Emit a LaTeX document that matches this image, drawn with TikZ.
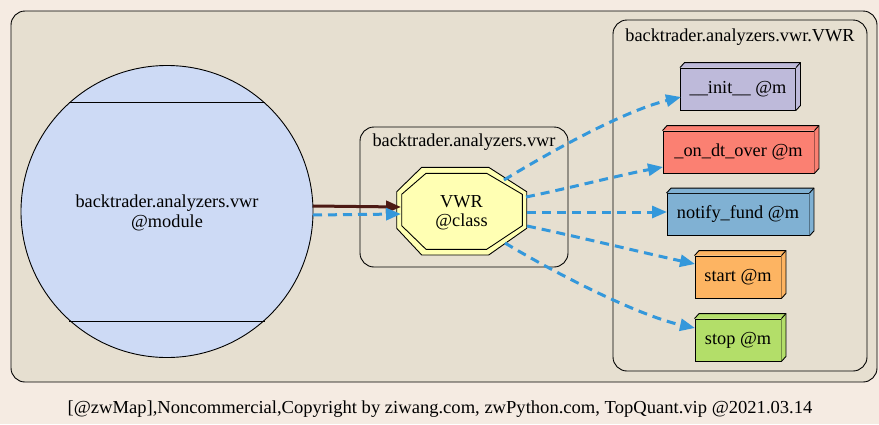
\documentclass[tikz,border=0pt]{standalone}
\usepackage{fontspec}
\setmainfont{Liberation Serif}
\usetikzlibrary{arrows.meta}
\definecolor{pagebg}{HTML}{F5EBE2}
\definecolor{clbg}{HTML}{E6DFD0}
\definecolor{modfill}{HTML}{CDDAF5}
\definecolor{clsfill}{HTML}{FFFFB3}
\definecolor{cinit}{HTML}{BEBADA}
\definecolor{condt}{HTML}{FB8072}
\definecolor{cnotify}{HTML}{80B1D3}
\definecolor{cstart}{HTML}{FDB462}
\definecolor{cstop}{HTML}{B3DE69}
\definecolor{eblue}{HTML}{3498DB}
\definecolor{ebrown}{HTML}{4D1A14}
\tikzset{
  lbl/.style={font=\fontsize{18.3}{20}\selectfont, align=center, inner sep=0pt},
  cluster/.style={draw=black, fill=clbg, line width=0.9pt, rounded corners=14pt},
  meth/.style={draw=black, line width=0.9pt, rectangle, minimum height=42pt, inner sep=0pt, font=\fontsize{18.3}{20}\selectfont},
  dep/.style={draw=eblue, line width=3pt, dash pattern=on 9pt off 6pt, -{Triangle[length=15pt,width=12pt,fill=eblue]}},
  inh/.style={draw=ebrown, line width=3pt, -{Triangle[length=15pt,width=12pt,fill=ebrown]}},
}
\newcommand{\boxthreed}[2]{%
  \fill[#2] (#1.north west) -- ++(4.5,-5) -- ([shift={(4.5,-5)}]#1.north east) -- ([shift={(4.5,-5)}]#1.south east) -- (#1.south east) -- (#1.north east) -- cycle;
  \draw[line width=0.9pt, line join=round] (#1.north west) -- ++(4.5,-5) -- ([shift={(4.5,-5)}]#1.north east) -- ([shift={(4.5,-5)}]#1.south east) -- (#1.south east);
  \draw[line width=0.9pt] (#1.north east) -- ++(4.5,-5);
}
\begin{document}
\begin{tikzpicture}[x=1pt,y=-1pt]
\useasboundingbox (0,0) rectangle (879,424);
\fill[pagebg] (0,0) rectangle (879,424);
% clusters
\draw[cluster] (11,11) rectangle (877,382);
\draw[cluster] (360,127) rectangle (568,267);
\draw[cluster] (613,20) rectangle (867,371);
\node[lbl, anchor=base] (lblmid) at (464,146.5) {backtrader.analyzers.vwr};
\node[lbl, anchor=base] (lblright) at (740,41.5) {backtrader.analyzers.vwr.VWR};
% module
\node[circle, draw=black, line width=0.9pt, fill=modfill, minimum size=292pt, inner sep=0pt] (mod) at (167,211.5) {};
\draw[line width=0.9pt] (69,102) -- (265,102);
\draw[line width=0.9pt] (69,321) -- (265,321);
\node[lbl] (modtxt) at (167,212.5) {backtrader.analyzers.vwr\\@module};
% class octagon
\coordinate (vwr) at (462,211);
\filldraw[fill=clsfill, draw=black, line width=0.9pt]
  (421.7,167.3) -- (488.7,167.3) -- (526.7,191.7) -- (526.7,228.3) -- (488.7,255) -- (421.7,255) -- (396.7,228.3) -- (396.7,191.7) -- cycle;
\draw[line width=0.9pt]
  (426,173.3) -- (486.7,173.3) -- (522.3,194.3) -- (522.3,225.7) -- (486.7,249.3) -- (426,249.3) -- (401.7,225.7) -- (401.7,194.3) -- cycle;
\node[lbl, font=\fontsize{18.3}{19.5}\selectfont] (vwrtxt) at (461.5,212.5) {VWR\\@class};
% methods
\node[meth, fill=cinit, minimum width=115pt] (init) at (738,89) {\_\_init\_\_ @m};
\boxthreed{init}{cinit}
\node[meth, fill=condt, minimum width=151pt] (ondt) at (738.5,152) {\_on\_dt\_over @m};
\boxthreed{ondt}{condt}
\node[meth, fill=cnotify, minimum width=142pt] (notify) at (738,214.5) {notify\_fund @m};
\boxthreed{notify}{cnotify}
\node[meth, fill=cstart, minimum width=86pt] (start) at (738,277) {start @m};
\boxthreed{start}{cstart}
\node[meth, fill=cstop, minimum width=86pt] (stop) at (738,340) {stop @m};
\boxthreed{stop}{cstop}
% connector end points
\coordinate (m1) at (313,206);
\coordinate (m2) at (313,215);
\coordinate (c1) at (401,207);
\coordinate (c2) at (401,214);
\coordinate (o1) at (504,180);
\coordinate (o2) at (526,197);
\coordinate (o3) at (527,212);
\coordinate (o4) at (527,226);
\coordinate (o5) at (505,243);
\coordinate (e1) at (681,97);
\coordinate (e2) at (663,167);
\coordinate (e3) at (667,212);
\coordinate (e4) at (695,264);
\coordinate (e5) at (695,328);
% edges
\draw[inh] (m1) -- (c1);
\draw[dep] (m2) -- (c2);
\draw[dep] (o1) .. controls (540,158) and (620,112) .. (e1);
\draw[dep] (o2) .. controls (570,188) and (620,175) .. (e2);
\draw[dep] (o3) -- (e3);
\draw[dep] (o4) .. controls (575,236) and (640,252) .. (e4);
\draw[dep] (o5) .. controls (560,276) and (640,316) .. (e5);
% footer
\node[lbl, anchor=base, xscale=1.015] (footer) at (440,413) {[@zwMap],Noncommercial,Copyright by ziwang.com, zwPython.com, TopQuant.vip @2021.03.14};
\end{tikzpicture}
\end{document}
